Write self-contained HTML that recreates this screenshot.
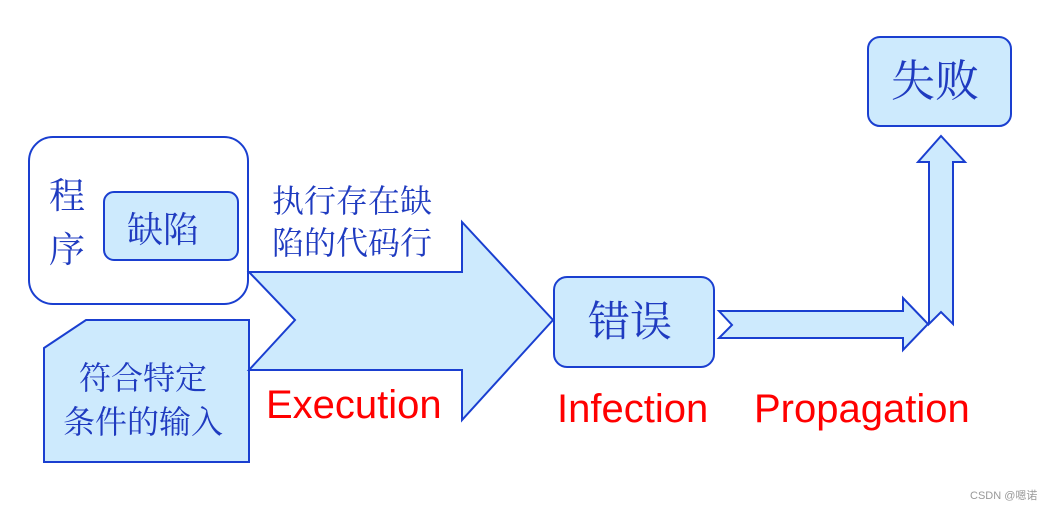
<!DOCTYPE html>
<html><head><meta charset="utf-8"><style>
html,body{margin:0;padding:0;background:#fff;}
svg{display:block;}
.cn{font-family:"Liberation Serif","Noto Serif CJK SC",serif;fill:#1f3bc0;}
.en{font-family:"Liberation Sans",sans-serif;fill:#ff0000;}
</style></head><body>
<svg width="1053" height="510" viewBox="0 0 1053 510" xmlns="http://www.w3.org/2000/svg">
<g stroke="#1a3fd0" stroke-width="2" stroke-linejoin="miter">
<rect x="29" y="137" width="219" height="167" rx="24" fill="#fff"/>
<rect x="104" y="192" width="134" height="68" rx="10" fill="#cdeafd"/>
<polygon points="44,348 86,320 249,320 249,462 44,462" fill="#cdeafd"/>
<polygon points="249,272 462,272 462,222 553,320 462,420 462,370 249,370 295,320" fill="#cdeafd"/>
<rect x="554" y="277" width="160" height="90" rx="13" fill="#cdeafd"/>
<rect x="868" y="37" width="143" height="89" rx="12" fill="#cdeafd"/>
<polygon points="719,311 903,311 903,298 928,324 903,350 903,338 719,338 732,325" fill="#cdeafd"/>
<polygon points="929,324 929,162 918,162 941,136 965,162 953,162 953,324 941,312" fill="#cdeafd"/>
</g>
<text class="cn" x="49" y="208" font-size="36">程</text>
<text class="cn" x="49" y="262" font-size="36">序</text>
<text class="cn" x="127" y="242" font-size="36">缺陷</text>
<text class="cn" x="272" y="212" font-size="32">执行存在缺</text>
<text class="cn" x="272" y="254" font-size="32">陷的代码行</text>
<text class="cn" x="79" y="389" font-size="32">符合特定</text>
<text class="cn" x="63" y="433" font-size="32">条件的输入</text>
<text class="cn" x="588" y="336" font-size="42">错误</text>
<text class="cn" x="891" y="96" font-size="44">失败</text>
<text class="en" x="266" y="418" font-size="40">Execution</text>
<text class="en" x="557" y="422" font-size="40">Infection</text>
<text class="en" x="754" y="422" font-size="40">Propagation</text>
<text x="970" y="499" font-size="11" fill="#999" font-family="Liberation Sans,'Noto Sans CJK SC',sans-serif">CSDN @嗯诺</text>
</svg>
</body></html>
